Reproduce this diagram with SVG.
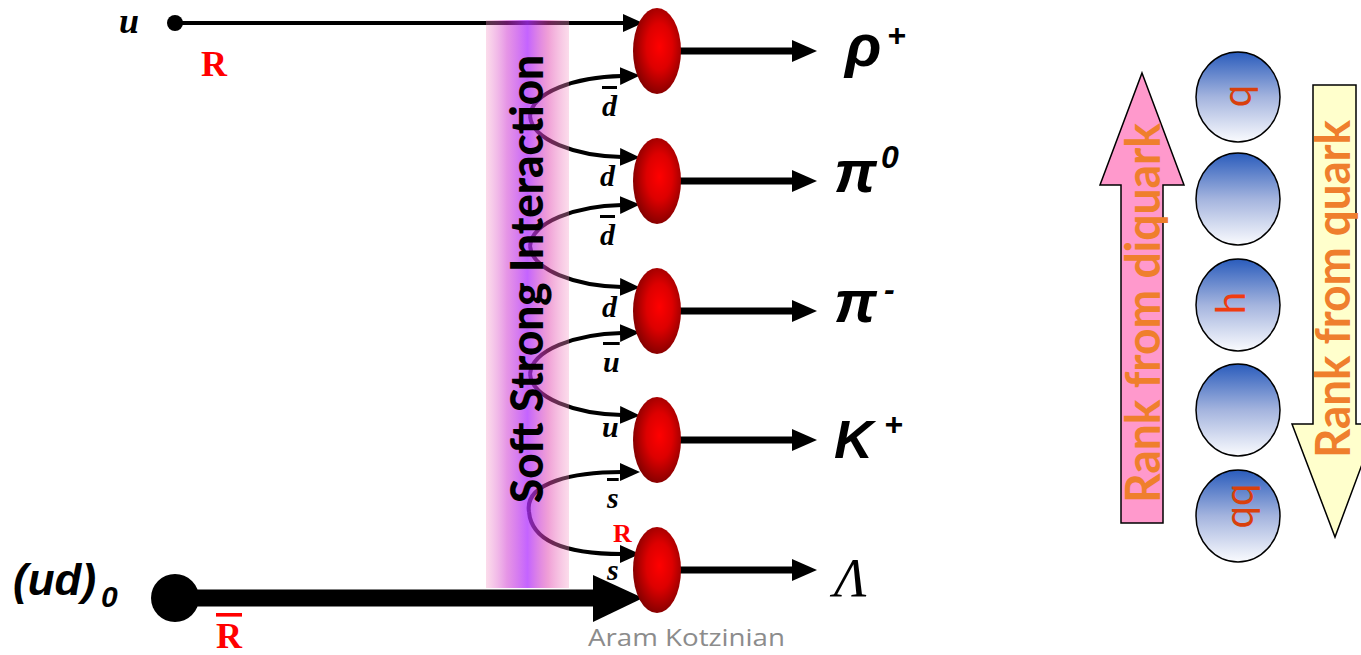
<svg xmlns="http://www.w3.org/2000/svg" width="1361" height="655" viewBox="0 0 1361 655">
<defs>
  <style>
    .q { font-family: "Liberation Serif", serif; font-weight: bold; font-style: italic; font-size: 30px; fill: #000; }
    .qb { text-decoration: overline; }
    .had { font-family: "Liberation Sans", sans-serif; font-weight: bold; font-style: italic; font-size: 54px; fill: #000; }
    .gr { font-size: 60px; }
    .sup { font-size: 32px; }
    .red { font-family: "Liberation Serif", serif; font-weight: bold; fill: #ff0000; }
    .curve { fill: none; stroke: #000; stroke-width: 4; marker-end: url(#ah); }
    .out { stroke: #000; stroke-width: 7; }
    .rank { font-family: Lato, "Open Sans", sans-serif; font-weight: bold; font-size: 47px; fill: #ef7f2d; }
    .lbl { font-family: Lato, "Open Sans", sans-serif; font-size: 40px; fill: #d9400c; }
    .had-ell { fill: url(#redg); }
    .ball { fill: url(#blueg); stroke: #000; stroke-width: 1.5; }
  </style>
  <marker id="ah" markerUnits="userSpaceOnUse" markerWidth="20" markerHeight="20" viewBox="0 0 20 20" refX="2" refY="10" orient="auto">
    <path d="M0,1 L20,10 L0,19 z" fill="#000"/>
  </marker>
  <radialGradient id="redg" cx="0.55" cy="0.45" r="0.6">
    <stop offset="0" stop-color="#ff0000"/>
    <stop offset="0.45" stop-color="#dd0000"/>
    <stop offset="1" stop-color="#7a0000"/>
  </radialGradient>
  <linearGradient id="blueg" x1="0" y1="0" x2="0" y2="1">
    <stop offset="0" stop-color="#2a5cbc"/>
    <stop offset="0.5" stop-color="#a4b4de"/>
    <stop offset="1" stop-color="#fafbfe"/>
  </linearGradient>
  <linearGradient id="bandg" x1="0" y1="0" x2="1" y2="0">
    <stop offset="0" stop-color="#f59bc6" stop-opacity="0.35"/>
    <stop offset="0.25" stop-color="#cd2dcd" stop-opacity="0.5"/>
    <stop offset="0.5" stop-color="#b030ff" stop-opacity="0.75"/>
    <stop offset="0.75" stop-color="#e141af" stop-opacity="0.5"/>
    <stop offset="1" stop-color="#f59bc6" stop-opacity="0.35"/>
  </linearGradient>
</defs>

<g id="connectors">
  <path d="M176,23 L625,23" stroke="#000" stroke-width="4" fill="none" marker-end="url(#ah)"/>
  <path class="curve" d="M530,116 C532,92 575,77 622,76"/>
  <path class="curve" d="M530,116 C532,140 575,156 622,157"/>
  <path class="curve" d="M530,246 C532,222 575,206 622,205"/>
  <path class="curve" d="M530,246 C532,270 575,286 622,287"/>
  <path class="curve" d="M530,374 C532,350 575,334 622,333"/>
  <path class="curve" d="M530,374 C532,398 575,414 622,415"/>
  <path class="curve" d="M529,512 C524,482 575,472 622,472"/>
  <path class="curve" d="M529,512 C532,545 575,554 622,554"/>
  <line x1="175" y1="598" x2="600" y2="598" stroke="#000" stroke-width="17"/>
  <polygon points="593,575 643,598 593,622" fill="#000"/>
  <line class="out" x1="680" y1="51" x2="795" y2="51"/>
  <polygon points="792,40 817,51 792,62" fill="#000"/>
  <line class="out" x1="680" y1="181" x2="795" y2="181"/>
  <polygon points="792,170 817,181 792,192" fill="#000"/>
  <line class="out" x1="680" y1="311" x2="795" y2="311"/>
  <polygon points="792,300 817,311 792,322" fill="#000"/>
  <line class="out" x1="680" y1="440" x2="795" y2="440"/>
  <polygon points="792,429 817,440 792,451" fill="#000"/>
  <line class="out" x1="680" y1="570" x2="795" y2="570"/>
  <polygon points="792,559 817,570 792,581" fill="#000"/>
</g>

<g id="band">
  <rect x="486" y="20" width="83" height="568" fill="url(#bandg)"/>
  <text transform="translate(543,279) rotate(-90)" text-anchor="middle" font-family="Lato, 'Open Sans', sans-serif" font-weight="900" font-size="45" textLength="448" lengthAdjust="spacingAndGlyphs" fill="#000">Soft Strong Interaction</text>
</g>

<g id="quark-u">
  <circle cx="175" cy="23" r="8" fill="#000"/>
  <text class="q" x="119" y="33" style="font-size:36px">u</text>
  <text class="red" x="201" y="76" font-size="36">R</text>
</g>

<g id="diquark">
  <circle cx="175" cy="598" r="24" fill="#000"/>
  <text x="13" y="595" font-family="'Liberation Sans', sans-serif" font-weight="bold" font-style="italic" font-size="44">(ud)<tspan font-size="30" x="101" y="607">0</tspan></text>
  <text class="red" x="216" y="648" font-size="36" text-decoration="overline">R</text>
</g>

<g id="quark-labels">
  <text class="q qb" x="602" y="116">d</text>
  <text class="q" x="600" y="186">d</text>
  <text class="q qb" x="600" y="245">d</text>
  <text class="q" x="602" y="317">d</text>
  <text class="q qb" x="603" y="372">u</text>
  <text class="q" x="602" y="437">u</text>
  <text class="q qb" x="607" y="508">s</text>
  <text class="red" x="613" y="542" font-size="26">R</text>
  <text class="q" x="607" y="580">s</text>
</g>

<g id="hadron-rho">
  <ellipse class="had-ell" cx="657" cy="51" rx="24" ry="43"/>
  <text class="had gr" x="845" y="66">ρ<tspan class="sup" x="887" y="46">+</tspan></text>
</g>
<g id="hadron-pi0">
  <ellipse class="had-ell" cx="657" cy="181" rx="24" ry="43"/>
  <text class="had gr" x="834" y="192">π<tspan class="sup" x="881" y="168">0</tspan></text>
</g>
<g id="hadron-pim">
  <ellipse class="had-ell" cx="657" cy="311" rx="24" ry="43"/>
  <text class="had gr" x="834" y="322">π<tspan class="sup" x="884" y="300">-</tspan></text>
</g>
<g id="hadron-K">
  <ellipse class="had-ell" cx="657" cy="440" rx="24" ry="43"/>
  <text class="had" x="834" y="458">K<tspan class="sup" x="884" y="435">+</tspan></text>
</g>
<g id="hadron-Lambda">
  <ellipse class="had-ell" cx="657" cy="570" rx="24" ry="43"/>
  <text x="834" y="596" font-family="'Liberation Serif', serif" font-style="italic" font-size="54" fill="#000">Λ</text>
</g>

<text x="588" y="646" font-family="'Open Sans', sans-serif" font-size="24" fill="#8c8c8c" textLength="197" lengthAdjust="spacingAndGlyphs">Aram Kotzinian</text>

<g id="rank-diquark">
  <polygon points="1142,73 1184,185 1163,185 1163,523 1121,523 1121,185 1100,185" fill="#ff99cc" stroke="#000" stroke-width="1.5"/>
  <text class="rank" transform="translate(1160,313) rotate(-90)" text-anchor="middle" textLength="380" lengthAdjust="spacingAndGlyphs">Rank from diquark</text>
</g>
<g id="rank-quark">
  <polygon points="1313,85 1356,85 1356,424 1377,424 1335,537 1292,424 1313,424" fill="#ffffcc" stroke="#000" stroke-width="1.5"/>
  <text class="rank" transform="translate(1350,289) rotate(-90)" text-anchor="middle" textLength="338" lengthAdjust="spacingAndGlyphs">Rank from quark</text>
</g>

<g id="ball-q">
  <ellipse class="ball" cx="1238" cy="97" rx="42" ry="45"/>
  <text class="lbl" transform="translate(1251,96) rotate(-90)" text-anchor="middle">q</text>
</g>
<g id="ball-2">
  <ellipse class="ball" cx="1238" cy="199" rx="42" ry="46"/>
</g>
<g id="ball-h">
  <ellipse class="ball" cx="1238" cy="305" rx="42" ry="46"/>
  <text class="lbl" transform="translate(1245,303) rotate(-90)" text-anchor="middle" style="fill:#f03c10">h</text>
</g>
<g id="ball-4">
  <ellipse class="ball" cx="1238" cy="410" rx="42" ry="46"/>
</g>
<g id="ball-qq">
  <ellipse class="ball" cx="1238" cy="516" rx="42" ry="46"/>
  <text class="lbl" transform="translate(1253,506) rotate(-90)" text-anchor="middle">qq</text>
</g>
</svg>
